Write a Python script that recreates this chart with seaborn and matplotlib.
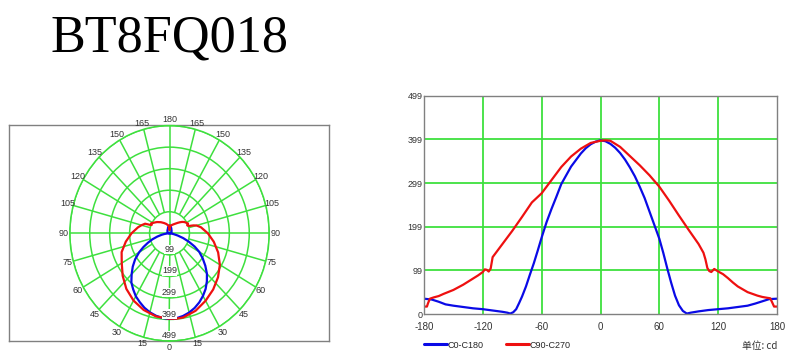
import numpy as np
import pandas as pd
import matplotlib
matplotlib.use("Agg")
import matplotlib.pyplot as plt
import seaborn as sns

# ---------------- data ----------------
title = "BT8FQ018"
series_names = ["C0-C180", "C90-C270"]

gamma_c0 = [-180, -172, -165, -158, -150, -140, -130, -120, -110, -100, -95, -92, -89, -86,
            -83, -80, -76, -72, -68, -64, -60, -55, -50, -45, -40, -35, -30, -25, -20, -15,
            -10, -5, 0, 5, 10, 15, 20, 25, 30, 35, 40, 45, 50, 55, 60, 64, 68, 72, 76, 80,
            84, 88, 92, 100, 110, 120, 130, 140, 150, 158, 165, 172, 180]
cd_c0 = [35, 33, 28, 22, 19, 16, 13, 11, 8, 5, 3, 1, 4, 11,
         25, 40, 63, 90, 116, 145, 175, 210, 240, 268, 297, 317, 337, 352, 367, 379,
         388, 394, 397, 395, 389, 380, 368, 353, 335, 315, 291, 265, 234, 203, 172, 140,
         105, 72, 42, 20, 7, 1, 3, 6, 9, 11, 13, 16, 19, 24, 29, 34, 35]

gamma_c90 = [-180, -177, -176, -174, -170, -165, -160, -150, -140, -130, -125, -120, -118,
             -116, -114, -112, -110, -105, -100, -90, -80, -70, -60, -50, -40, -30, -20,
             -10, 0, 5, 10, 20, 30, 40, 50, 60, 70, 80, 90, 100, 105, 107, 109, 111, 113,
             116, 118, 121, 125, 130, 135, 140, 150, 160, 165, 170, 173, 175, 177, 180]
cd_c90 = [17, 17, 24, 35, 38, 41, 46, 55, 67, 81, 88, 96, 102,
          101, 97, 104, 130, 145, 160, 190, 222, 255, 276, 306, 336, 360, 378,
          391, 396, 397, 396, 382, 361, 340, 317, 291, 259, 225, 192, 160, 140, 125, 105,
          98, 96, 103, 100, 96, 91, 82, 72, 63, 50, 42, 39, 37, 36, 27, 17, 17]

x_ticks = [-180, -120, -60, 0, 60, 120, 180]
y_ticks = [0, 99.8, 199.6, 299.4, 399.2, 499]
y_tick_labels = ["0", "99", "199", "299", "399", "499"]
ring_values = [99.8, 199.6, 299.4, 399.2, 499]
ring_labels = ["99", "199", "299", "399", "499"]
angle_labels = [0, 15, 30, 45, 60, 75, 90, 105, 120, 135, 150, 165, 180]
unit_label = "单位: cd"

# ---------------- style ----------------
GREEN = "#3ee03e"
BLUE = "#0a0ae6"
RED = "#ee1010"
GRAY = "#808080"
TXT = "#333333"
palette = {series_names[0]: BLUE, series_names[1]: RED}

sns.set_style("white")
plt.rcParams["font.family"] = ["Liberation Sans", "Noto Sans CJK SC", "DejaVu Sans"]

df = pd.concat([
    pd.DataFrame({"gamma": gamma_c0, "cd": cd_c0, "series": series_names[0]}),
    pd.DataFrame({"gamma": gamma_c90, "cd": cd_c90, "series": series_names[1]}),
], ignore_index=True)
df["theta"] = np.radians(df["gamma"])

W, H = 800, 353
fig = plt.figure(figsize=(W / 100, H / 100), dpi=100)

def fx(px):
    return px / W

def fy(py):
    return 1 - py / H

# Title
fig.text(fx(169), fy(52), title, ha="center", va="baseline", fontsize=37.6,
         family="Liberation Serif", color="black")

# ---------------- polar chart ----------------
ax_box = fig.add_axes([fx(9), fy(341), (329 - 9) / W, (341 - 125) / H])
ax_box.set_xticks([])
ax_box.set_yticks([])
for s in ax_box.spines.values():
    s.set_color(GRAY)
    s.set_linewidth(1.0)
ax_box.set_facecolor("white")

cx, cy, rx, ry = 169.5, 233.3, 99.7, 107.7
axp = fig.add_axes([fx(cx - rx), fy(cy + ry), 2 * rx / W, 2 * ry / H], projection="polar")
axp.set_aspect("auto")
axp.patch.set_alpha(0)
axp.set_theta_zero_location("S")
axp.set_theta_direction(1)
axp.set_ylim(0, 499)
axp.set_xticks([])
axp.set_yticks(ring_values)
axp.set_yticklabels([])
axp.xaxis.grid(False)
axp.yaxis.grid(True, color=GREEN, lw=1.1)
axp.spines["polar"].set_color(GREEN)
axp.spines["polar"].set_linewidth(1.1)

full_spokes = [0, 90, 180, 270]
part_spokes = [a for a in range(15, 360, 15) if a % 90 != 0]
axp.vlines(np.radians(full_spokes), 0, 499, colors=GREEN, lw=1.1, zorder=1)
axp.vlines(np.radians(part_spokes), ring_values[0], 499, colors=GREEN, lw=1.1, zorder=1)

sns.lineplot(data=df, x="theta", y="cd", hue="series", palette=palette, ax=axp,
             legend=False, sort=False, lw=1.6, zorder=3)
axp.set_xlabel("")
axp.set_ylabel("")

for a in angle_labels:
    thetas = [a] if a in (0, 180) else [a, -a]
    for t in thetas:
        axp.text(np.radians(t), 529, str(a), ha="center", va="center", fontsize=6.5,
                 color=TXT, clip_on=False)
for v, lab in zip(ring_values, ring_labels):
    axp.text(0, v - 25, lab, ha="center", va="center", fontsize=6.5, color=TXT,
             zorder=4, bbox=dict(fc="white", ec="none", pad=0.2))

# ---------------- cartesian chart ----------------
ax = fig.add_axes([fx(424), fy(314), (777 - 424) / W, (314 - 95.7) / H])
for xv in x_ticks[1:-1]:
    ax.axvline(xv, color=GREEN, lw=1.3, zorder=1)
for yv in y_ticks[1:-1]:
    ax.axhline(yv, color=GREEN, lw=1.3, zorder=1)
sns.lineplot(data=df, x="gamma", y="cd", hue="series", palette=palette, ax=ax,
             sort=False, lw=1.6, zorder=3)
ax.set_xlim(-180, 180)
ax.set_ylim(0, 499)
ax.set_xticks(x_ticks)
ax.set_xticklabels([str(t) for t in x_ticks])
ax.set_yticks(y_ticks)
ax.set_yticklabels(y_tick_labels)
ax.tick_params(axis="x", length=0, pad=6, labelsize=7, labelcolor=TXT)
ax.tick_params(axis="y", length=0, pad=1, labelsize=6.5, labelcolor=TXT)
ax.set_xlabel("")
ax.set_ylabel("")
ax.grid(False)
for s in ax.spines.values():
    s.set_color(GRAY)
    s.set_linewidth(1.0)
    s.set_zorder(5)

sns.move_legend(ax, "center left", bbox_to_anchor=(fx(424), fy(345)),
                bbox_transform=fig.transFigure, ncol=2, frameon=False, title=None,
                fontsize=6.5, handlelength=2.5, handletextpad=0.1, columnspacing=2.5,
                borderpad=0, borderaxespad=0)
for line in ax.get_legend().get_lines():
    line.set_linewidth(2.2)

fig.text(fx(777), fy(346), unit_label, ha="right", va="center", fontsize=7, color=TXT,
         family=["Noto Sans CJK SC", "DejaVu Sans"])

fig.savefig("out.png", dpi=100)
